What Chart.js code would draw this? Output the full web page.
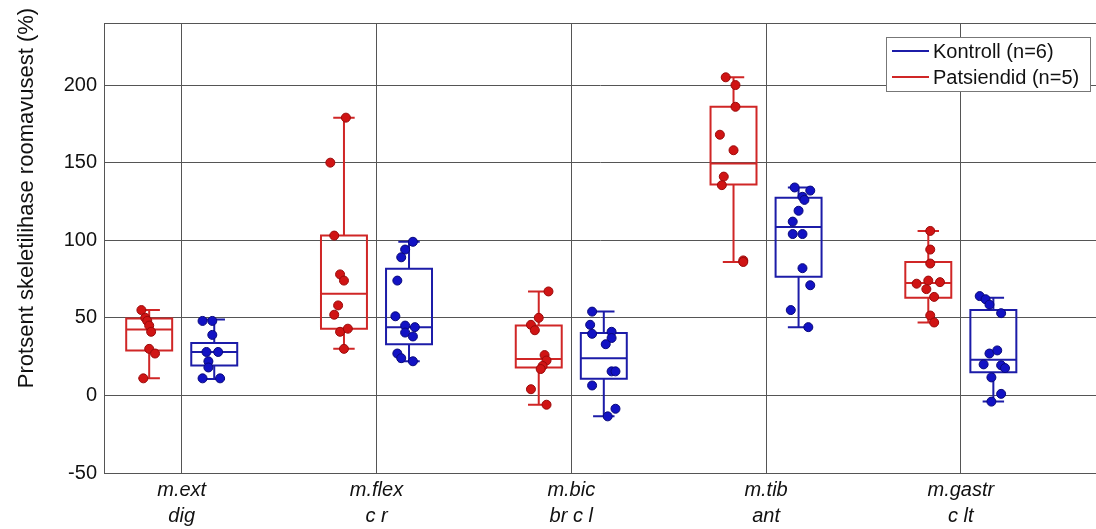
<!DOCTYPE html>
<html>
<head>
<meta charset="utf-8">
<script src="https://cdn.jsdelivr.net/npm/chart.js@4"></script>
<style>
  body { margin: 0; background: #fff; overflow: hidden; }
  #wrap { width: 1096px; height: 529px; }
</style>
</head>
<body>
<div id="wrap"><canvas id="chartOne"></canvas></div>
<script>
// categories (two-line labels)
var categories = [["m.ext", "dig"], ["m.flex", "c r"], ["m.bic", "br c l"], ["m.tib", "ant"], ["m.gastr", "c lt"]]
var yTicks = [-50, 0, 50, 100, 150, 200]

// Patsiendid (n=5) - box stats
var patMin = [11, 30, -6, 86, 47]
var patQ1 = [29, 43, 18, 136, 63]
var patMed = [42.5, 65.5, 23.5, 149.5, 72.5]
var patQ3 = [49.5, 103, 45, 186, 86]
var patMax = [55, 179, 67, 205, 106]
// Patsiendid - individual points and their jitter
var patPoints = [
    [55, 50, 48, 45, 41, 30, 27, 11],
    [179, 150, 103, 78, 74, 58, 52, 41, 43, 30],
    [67, 50, 45.5, 42, 26, 22.5, 19, 17, 4, -6],
    [205, 200, 186, 168, 158, 141, 135.5, 87, 86],
    [106, 94, 85, 72, 74, 73, 68.5, 63.5, 51.5, 47]
]
var patJitter = [
    [-0.04, -0.02, -0.01, 0, 0.01, 0, 0.03, -0.03],
    [0.01, -0.07, -0.05, -0.02, 0, -0.03, -0.05, -0.02, 0.02, 0],
    [0.05, 0, -0.04, -0.02, 0.03, 0.04, 0.02, 0.01, -0.04, 0.04],
    [-0.04, 0.01, 0.01, -0.07, 0, -0.05, -0.06, 0.05, 0.05],
    [0.01, 0.01, 0.01, -0.06, 0, 0.06, -0.01, 0.03, 0.01, 0.03]
]

// Kontroll (n=6) - box stats
var konMin = [10.6, 22, -13.5, 44, -4]
var konQ1 = [19.3, 33, 10.7, 76.5, 15]
var konMed = [28, 44, 24, 108.5, 23]
var konQ3 = [33.8, 81.7, 40.3, 127.4, 55]
var konMax = [49, 99, 54, 134, 63]
var konPoints = [
    [48, 48, 39, 28, 28, 22, 18, 11, 11],
    [99, 94, 89, 74, 51, 45, 44, 40.5, 38, 27, 24, 22],
    [54, 45.5, 39.7, 41, 37, 33, 15.5, 15.5, 6.4, -8.6, -13.5],
    [134, 132, 128, 126, 119, 112, 104, 104, 82, 71, 55, 44],
    [64, 62, 58.5, 53, 27, 29, 20, 19.4, 17.6, 11.6, 1, -4]
]
var konJitter = [
    [-0.06, -0.01, -0.01, -0.04, 0.02, -0.03, -0.03, -0.06, 0.03],
    [0.02, -0.02, -0.04, -0.06, -0.07, -0.02, 0.03, -0.02, 0.02, -0.06, -0.04, 0.02],
    [-0.06, -0.07, -0.06, 0.04, 0.04, 0.01, 0.04, 0.06, -0.06, 0.06, 0.02],
    [-0.02, 0.06, 0.02, 0.03, 0, -0.03, -0.03, 0.02, 0.02, 0.06, -0.04, 0.05],
    [-0.07, -0.04, -0.02, 0.04, -0.02, 0.02, -0.05, 0.04, 0.06, -0.01, 0.04, -0.01]
]

var RED = "#d02626"
var BLUE = "#1c1ca8"
var GRID = "#555555"
var FONT = "'Liberation Sans', Arial, sans-serif"

var groups = [
    { label: "Patsiendid (n=5)", color: RED, offset: -0.167, min: patMin, q1: patQ1, med: patMed, q3: patQ3, max: patMax },
    { label: "Kontroll (n=6)", color: BLUE, offset: 0.167, min: konMin, q1: konQ1, med: konMed, q3: konQ3, max: konMax }
]
var boxHalf = 0.118
var capHalf = 0.055

function buildPoints(points, jitter, offset) {
    var out = []
    points.forEach(function (vals, i) {
        vals.forEach(function (v, j) {
            out.push({ x: i + 1 + offset + jitter[i][j], y: v })
        })
    })
    return out
}

var boxPlugin = {
    id: "boxes",
    beforeDatasetsDraw: function (chart) {
        var ctx = chart.ctx, area = chart.chartArea
        var x = chart.scales.x, y = chart.scales.y
        ctx.save()
        // top frame line
        ctx.strokeStyle = GRID
        ctx.lineWidth = 1
        ctx.beginPath()
        ctx.moveTo(area.left, area.top + 0.5)
        ctx.lineTo(area.right, area.top + 0.5)
        ctx.stroke()

        ctx.lineWidth = 2
        groups.forEach(function (g) {
            ctx.strokeStyle = g.color
            for (var i = 0; i < categories.length; i++) {
                var cx = i + 1 + g.offset
                var l = x.getPixelForValue(cx - boxHalf)
                var r = x.getPixelForValue(cx + boxHalf)
                var c = x.getPixelForValue(cx)
                var cl = x.getPixelForValue(cx - capHalf)
                var cr = x.getPixelForValue(cx + capHalf)
                var yMin = y.getPixelForValue(g.min[i])
                var yQ1 = y.getPixelForValue(g.q1[i])
                var yMed = y.getPixelForValue(g.med[i])
                var yQ3 = y.getPixelForValue(g.q3[i])
                var yMax = y.getPixelForValue(g.max[i])
                ctx.beginPath()
                ctx.rect(l, yQ3, r - l, yQ1 - yQ3)
                ctx.moveTo(l, yMed); ctx.lineTo(r, yMed)
                ctx.moveTo(c, yQ3); ctx.lineTo(c, yMax)
                ctx.moveTo(c, yQ1); ctx.lineTo(c, yMin)
                ctx.moveTo(cl, yMax); ctx.lineTo(cr, yMax)
                ctx.moveTo(cl, yMin); ctx.lineTo(cr, yMin)
                ctx.stroke()
            }
        })
        ctx.restore()
    },
    afterDraw: function (chart) {
        var ctx = chart.ctx, area = chart.chartArea
        ctx.save()
        // y axis title
        ctx.fillStyle = "#111"
        ctx.font = "22px " + FONT
        ctx.translate(33, (area.top + area.bottom) / 2 - 50)
        ctx.rotate(-Math.PI / 2)
        ctx.textAlign = "center"
        ctx.textBaseline = "alphabetic"
        ctx.fillText("Protsent skeletilihase roomavusest (%)", 0, 0)
        ctx.restore()

        // legend box, top right inside the plot
        ctx.save()
        var lx = area.right - 210, ly = area.top + 14, lw = 204, lh = 54
        ctx.fillStyle = "#fff"
        ctx.fillRect(lx, ly, lw, lh)
        ctx.strokeStyle = "#777"
        ctx.lineWidth = 1
        ctx.strokeRect(lx + 0.5, ly + 0.5, lw, lh)
        ctx.font = "20px " + FONT
        ctx.textBaseline = "middle"
        ctx.textAlign = "left"
        var order = [groups[1], groups[0]]
        order.forEach(function (g, k) {
            var yy = ly + 14 + k * 26
            ctx.strokeStyle = g.color
            ctx.lineWidth = 2
            ctx.beginPath()
            ctx.moveTo(lx + 6, yy)
            ctx.lineTo(lx + 43, yy)
            ctx.stroke()
            ctx.fillStyle = "#111"
            ctx.fillText(g.label, lx + 47, yy + 1)
        })
        ctx.restore()
    }
}

var getChartOne = document.getElementById("chartOne")

var chartOne = new Chart(getChartOne, {
    type: "scatter",
    data: {
        datasets: [{
            label: "Patsiendid (n=5)",
            data: buildPoints(patPoints, patJitter, -0.167),
            backgroundColor: "#d01414",
            borderColor: "#9a0a0a",
            pointRadius: 4.5,
            pointBorderWidth: 1
        }, {
            label: "Kontroll (n=6)",
            data: buildPoints(konPoints, konJitter, 0.167),
            backgroundColor: "#1212c4",
            borderColor: "#08087a",
            pointRadius: 4.5,
            pointBorderWidth: 1
        }]
    },
    options: {
        responsive: true,
        maintainAspectRatio: false,
        animation: false,
        layout: { autoPadding: false, padding: { top: 23, right: 0, left: 0, bottom: 0 } },
        plugins: {
            legend: { display: false },
            tooltip: { enabled: false }
        },
        scales: {
            x: {
                type: "linear",
                min: 0.601,
                max: 5.694,
                afterBuildTicks: function (scale) {
                    scale.ticks = categories.map(function (c, i) { return { value: i + 1 } })
                },
                afterFit: function (scale) {
                    scale.height = 56
                    scale.paddingLeft = 0
                    scale.paddingRight = 0
                },
                ticks: {
                    callback: function (v) { return categories[v - 1] },
                    font: { family: FONT, size: 20, style: "italic", lineHeight: 1.3 },
                    color: "#111",
                    padding: 4,
                    maxRotation: 0,
                    autoSkip: false
                },
                grid: { color: GRID, drawTicks: false },
                border: { color: GRID }
            },
            y: {
                min: -50,
                max: 240,
                afterBuildTicks: function (scale) {
                    scale.ticks = yTicks.map(function (v) { return { value: v } })
                },
                afterFit: function (scale) {
                    scale.width = 104
                    scale.paddingTop = 0
                    scale.paddingBottom = 0
                },
                ticks: {
                    font: { family: FONT, size: 20 },
                    color: "#111",
                    padding: 7
                },
                grid: { color: GRID, drawTicks: false },
                border: { color: GRID }
            }
        }
    },
    plugins: [boxPlugin]
})
</script>
</body>
</html>
